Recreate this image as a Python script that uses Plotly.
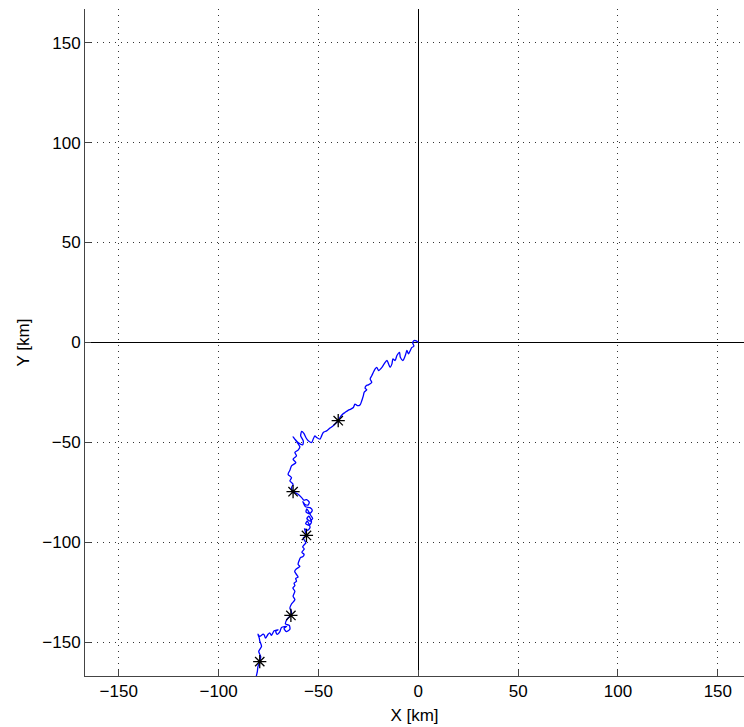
import plotly.graph_objects as go

# Drift track of the buoy, in km relative to the release point
track_x = [0.0, -1.0, -2.3, -2.8, -2.2, -3.3, -4.2, -4.9, -5.7, -6.5, -7.7, -9.0, -9.4, -10.7,
           -11.6, -12.7, -13.2, -14.1, -14.9, -15.7, -17.1, -18.2, -19.9, -20.8, -21.6, -22.5,
           -23.3, -24.1, -23.3, -25.0, -26.1, -26.6, -25.8, -27.1, -27.5, -28.3, -29.1, -30.5,
           -31.7, -32.5, -33.8, -35.0, -36.7, -37.8, -39.2, -40.1, -41.7, -42.6, -44.2, -45.9,
           -47.6, -48.4, -49.2, -50.9, -51.8, -52.6, -53.4, -55.1, -56.3, -57.3, -58.4, -58.9,
           -57.6, -57.9, -60.2, -61.8, -62.7, -61.0, -59.3, -60.2, -61.8, -61.0, -62.7, -61.3,
           -63.5, -64.3, -65.2, -63.5, -64.3, -62.7, -63.5, -62.7, -60.2, -58.4, -57.3, -55.9,
           -54.6, -55.2, -56.9, -57.8, -56.5, -54.2, -53.1, -54.4, -56.2, -55.8, -53.9, -52.9,
           -54.3, -55.8, -54.8, -53.5, -54.7, -56.4, -55.6, -54.2, -55.4, -57.0, -56.3, -56.0,
           -57.6, -56.3, -57.0, -57.9, -57.1, -58.3, -57.2, -57.9, -59.0, -59.6, -60.2, -59.3,
           -61.0, -61.9, -61.3, -60.2, -61.4, -61.0, -62.2, -61.8, -62.8, -61.8, -62.7, -61.8,
           -63.5, -64.3, -63.5, -63.8, -65.5, -66.5, -64.6, -64.3, -66.1, -67.2, -65.9, -68.5,
           -69.3, -70.6, -71.4, -70.2, -72.2, -73.5, -74.4, -75.2, -76.5, -77.1, -77.7, -79.4,
           -80.3, -79.6, -79.4, -78.5, -79.9, -78.9, -79.4, -80.3, -80.6, -81.1, -80.6]
track_y = [0.0, 0.8, 0.9, -0.3, -1.8, -2.6, -4.4, -5.7, -4.0, -6.5, -9.0, -7.4, -4.9, -6.5,
           -9.0, -8.2, -10.7, -12.4, -10.7, -9.0, -10.7, -12.4, -14.0, -12.4, -13.2, -14.9,
           -16.6, -18.2, -19.9, -21.2, -21.6, -22.9, -23.6, -24.9, -26.6, -29.1, -31.1, -31.6,
           -30.8, -32.5, -33.3, -33.8, -35.0, -35.8, -37.5, -39.1, -40.8, -41.6, -42.8, -44.2,
           -45.0, -46.7, -48.3, -47.5, -46.7, -48.3, -50.0, -49.2, -47.5, -45.5, -44.5, -46.7,
           -49.2, -51.2, -50.0, -48.3, -47.2, -49.5, -52.2, -53.8, -55.0, -56.7, -58.4, -60.1,
           -61.7, -63.9, -65.9, -67.6, -69.2, -70.9, -72.6, -74.6, -75.9, -77.6, -78.9, -78.6,
           -79.8, -81.3, -80.9, -79.6, -82.2, -82.6, -84.0, -85.6, -84.8, -83.2, -86.4, -88.0,
           -89.3, -88.1, -86.9, -89.9, -91.4, -90.6, -89.4, -92.5, -93.9, -93.2, -95.2, -96.5,
           -97.7, -100.2, -101.0, -102.2, -103.3, -104.9, -106.0, -107.2, -107.6, -108.9, -111.0,
           -112.0, -113.2, -114.4, -115.6, -117.3, -118.0, -119.4, -120.4, -121.6, -122.8, -124.4,
           -126.9, -128.6, -130.8, -132.8, -134.8, -136.5, -138.1, -140.8, -141.5, -143.4, -144.6,
           -143.0, -142.0, -142.5, -144.6, -146.0, -144.5, -143.7, -144.2, -146.5, -145.2, -145.9,
           -147.9, -146.4, -145.9, -147.0, -145.9, -148.0, -149.2, -152.0, -154.5, -157.1, -159.6,
           -162.1, -164.6, -167.1, -168.6]

# Daily positions marked along the track
mark_x = [-40.1, -62.7, -56.0, -63.8, -79.4]
mark_y = [-39.1, -74.6, -96.5, -136.5, -159.6]

tick_vals = [-150, -100, -50, 0, 50, 100, 150]
tick_text = ["\u2212150", "\u2212100", "\u221250", "0", "50", "100", "150"]

x_range = [-166.9, 163.1]
y_range = [-166.8, 166.8]

fig = go.Figure()
fig.add_trace(go.Scatter(
    x=track_x, y=track_y, mode="lines",
    line=dict(color="#0000ff", width=1.3, shape="spline", smoothing=0.7),
    showlegend=False, hoverinfo="skip",
))
fig.add_trace(go.Scatter(
    x=mark_x, y=mark_y, mode="markers",
    marker=dict(symbol="asterisk-open", size=11, color="black",
                line=dict(color="black", width=1.3)),
    showlegend=False,
))

font = dict(family="Liberation Sans, Arial, sans-serif", size=17, color="black")
axis_common = dict(
    tickvals=tick_vals, ticktext=tick_text,
    ticks="inside", ticklen=6, tickwidth=1, tickcolor="#444",
    showline=True, linecolor="#444", linewidth=1,
    showgrid=True, gridcolor="#333", gridwidth=1, griddash="1px,5px",
    zeroline=True, zerolinecolor="black", zerolinewidth=1,
    tickfont=font, mirror=False,
)

fig.update_layout(
    width=744, height=727,
    margin=dict(l=85, r=0, t=9, b=51),
    paper_bgcolor="white", plot_bgcolor="white",
    font=font,
    xaxis=dict(range=x_range, title=dict(text="X [km]", font=font, standoff=8), **axis_common),
    yaxis=dict(range=y_range, title=dict(text="Y [km]", font=font, standoff=8), **axis_common),
)

fig.write_html("out.html")
